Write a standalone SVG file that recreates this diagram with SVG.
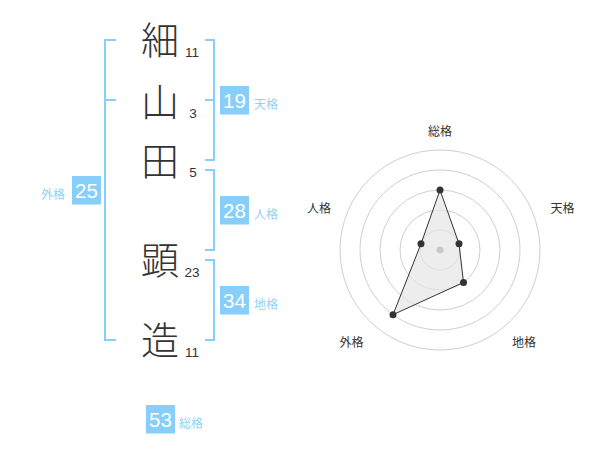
<svg xmlns="http://www.w3.org/2000/svg" width="600" height="470" viewBox="0 0 600 470">
<style>
.kanji{font-family:"Noto Sans CJK JP","Noto Sans CJK SC",sans-serif;font-size:38px;font-weight:300;fill:#333;text-anchor:middle}
.num{font-family:"Liberation Sans",Arial,sans-serif;font-size:13.5px;fill:#333;text-anchor:middle}
.badge rect{fill:#87cefa}
.badge text.v{font-family:"Liberation Sans",Arial,sans-serif;font-size:20.5px;fill:#fff;text-anchor:middle}
.lbl{font-family:"Noto Sans CJK JP","Noto Sans CJK SC",sans-serif;font-size:12px;fill:#8fd2f7}
.br{fill:none;stroke:#87cefa;stroke-width:2}
.ring{fill:none;stroke:#cfcfcf;stroke-width:1}
.axl{font-family:"Noto Sans CJK JP","Noto Sans CJK SC",sans-serif;font-size:12px;fill:#333;text-anchor:middle}
.pt{fill:#333}
</style>
<rect width="600" height="470" fill="#fff"/>

<g id="connectors">
  <path class="br" d="M116,40 H105 V340 H116 M105,100 H116"/>
  <path class="br" d="M205,40 H214 V160 H205 M205,100 H214"/>
  <path class="br" d="M205,170 H214 V250 H205"/>
  <path class="br" d="M205,260 H214 V340 H205"/>
</g>

<g id="char1"><text class="kanji" x="160" y="54">細</text><text class="num" x="192" y="57">11</text></g>
<g id="char2"><text class="kanji" x="160" y="116">山</text><text class="num" x="193" y="118">3</text></g>
<g id="char3"><text class="kanji" x="160" y="175">田</text><text class="num" x="193" y="177">5</text></g>
<g id="char4"><text class="kanji" x="160" y="274">顕</text><text class="num" x="192" y="277">23</text></g>
<g id="char5"><text class="kanji" x="160" y="354">造</text><text class="num" x="192" y="357">11</text></g>

<g id="tenkaku" class="badge"><rect x="220" y="86" width="29" height="28.5"/><text class="v" x="234.5" y="107.5">19</text><text class="lbl" x="254" y="108.5">天格</text></g>
<g id="jinkaku" class="badge"><rect x="220" y="196" width="29" height="28.5"/><text class="v" x="234.5" y="217.5">28</text><text class="lbl" x="254" y="218.5">人格</text></g>
<g id="chikaku" class="badge"><rect x="220" y="286" width="29" height="28.5"/><text class="v" x="234.5" y="307.5">34</text><text class="lbl" x="254" y="308.5">地格</text></g>
<g id="gaikaku" class="badge"><rect x="72" y="176" width="29" height="28.5"/><text class="v" x="86.5" y="197.5">25</text><text class="lbl" x="41" y="199">外格</text></g>
<g id="soukaku" class="badge"><rect x="146" y="405" width="29" height="28.5"/><text class="v" x="160.5" y="426.5">53</text><text class="lbl" x="179" y="427.5">総格</text></g>

<g id="radar">
  <circle class="ring" cx="440" cy="250" r="20"/>
  <circle class="ring" cx="440" cy="250" r="40"/>
  <circle class="ring" cx="440" cy="250" r="60"/>
  <circle class="ring" cx="440" cy="250" r="80"/>
  <circle class="ring" cx="440" cy="250" r="100"/>
  <polygon points="440,190 459,243.8 463.5,282.4 393,314.7 421,243.8" fill="#e6e6e6" fill-opacity="0.7" stroke="#333" stroke-width="1"/>
  <circle cx="440" cy="250" r="3.5" fill="#c8c8c8"/>
  <circle class="pt" cx="440" cy="190" r="3.5"/>
  <circle class="pt" cx="459" cy="243.8" r="3.5"/>
  <circle class="pt" cx="463.5" cy="282.4" r="3.5"/>
  <circle class="pt" cx="393" cy="314.7" r="3.5"/>
  <circle class="pt" cx="421" cy="243.8" r="3.5"/>
  <text class="axl" x="440" y="135.5">総格</text>
  <text class="axl" x="562.5" y="213">天格</text>
  <text class="axl" x="524" y="347">地格</text>
  <text class="axl" x="351.5" y="347">外格</text>
  <text class="axl" x="319" y="213">人格</text>
</g>
</svg>
